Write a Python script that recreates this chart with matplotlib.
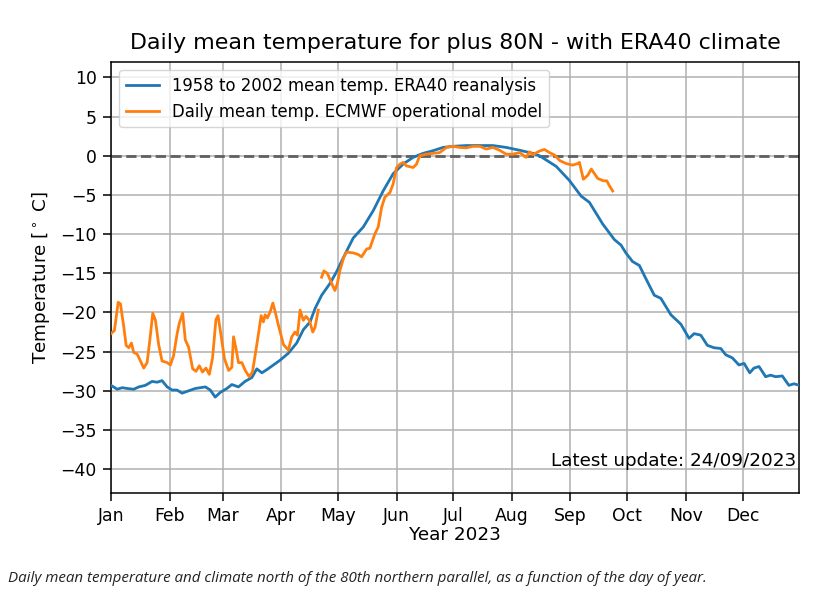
import numpy as np
import matplotlib
matplotlib.use("Agg")
import matplotlib.pyplot as plt

# ---- data (day of year, temperature in deg C) ----
clim_day = [1, 4.3, 6.9, 9.5, 13.0, 15.7, 19.2, 22.7, 25.4, 28.0, 30.7, 33.3, 35.9,
            38.6, 42.0, 45.6, 50.9, 53.5, 56.1, 58.8, 62.3, 64.9, 68.4, 71.9, 75.5,
            78.1, 80.8, 83.4, 86.9, 90.4, 94.8, 99.2, 102.7, 106.3, 108.9, 112.4,
            116.8, 120.3, 124.7, 129.1, 134.4, 139.7, 144.9, 150.2, 155.5, 160.8,
            166.0, 171.3, 176.6, 181.9, 188.9, 196.0, 203.0, 210.0, 217.1, 224.1,
            227.6, 236.4, 243.4, 249.6, 254.0, 261.0, 267.2, 270.7, 273.3, 276.8,
            280.4, 283.9, 288.3, 291.8, 297.1, 302.4, 306.7, 309.4, 312.9, 316.4,
            319.9, 323.5, 326.1, 329.6, 333.1, 335.8, 338.8, 341.0, 343.7, 347.2,
            349.8, 352.5, 356.0, 359.5, 362.2, 365]
clim_temp = [-29.3, -29.8, -29.6, -29.7, -29.8, -29.5, -29.3, -28.8, -28.9, -28.7,
             -29.5, -29.9, -29.9, -30.3, -30.0, -29.7, -29.5, -29.9, -30.8, -30.2,
             -29.7, -29.2, -29.5, -28.8, -28.3, -27.2, -27.7, -27.3, -26.7, -26.1,
             -25.2, -23.9, -22.2, -21.2, -19.5, -17.8, -16.3, -14.8, -12.6, -10.5,
             -9.1, -7.0, -4.5, -2.3, -1.06, -0.2, 0.3, 0.64, 1.06, 1.2, 1.3, 1.3,
             1.3, 1.06, 0.7, 0.3, 0.0, -1.35, -3.15, -5.15, -5.95, -8.7, -10.7,
             -11.4, -12.4, -13.5, -14.0, -15.7, -17.8, -18.2, -20.3, -21.5, -23.3,
             -22.7, -22.9, -24.2, -24.5, -24.6, -25.4, -25.8, -26.7, -26.5, -27.7,
             -27.1, -26.9, -28.2, -28.0, -28.2, -28.1, -29.3, -29.1, -29.3]

oper_day = [1, 2.8, 4.8, 6.0, 7.8, 9.0, 10.4, 11.8, 13.0, 14.8, 16.6, 18.3, 20.1,
            21.5, 23.1, 24.5, 26.2, 28.0, 30.7, 32.4, 34.1, 35.9, 37.1, 38.9, 40.3,
            42.0, 44.2, 46.0, 47.7, 49.4, 51.2, 53.0, 54.7, 56.5, 57.6, 59.3, 61.0,
            63.2, 64.9, 65.8, 67.1, 68.4, 70.2, 72.0, 74.1, 75.8, 77.6, 79.0, 80.4,
            81.6, 82.5, 83.7, 85.2, 86.6, 87.8, 89.5, 92.2, 94.8, 96.6, 98.3, 99.6,
            101.0, 102.7, 104.1, 105.9, 107.7, 108.9, 110.6,
            111.5,
            112.4, 113.6, 115.4, 117.7, 119.4, 120.7, 122.1, 124.2, 125.6, 129.1,
            131.7, 133.5, 136.2, 137.9, 140.5, 142.3, 144.1, 145.8, 148.5, 150.2,
            152.0, 153.7, 155.5, 157.3, 160.8, 162.5, 164.3, 167.8, 171.3, 174.8,
            178.4, 181.9, 185.4, 188.9, 192.4, 196.0, 199.5, 203.0, 206.5, 210.0,
            213.5, 217.1, 220.6, 222.3, 224.1, 227.6, 230.2, 232.9, 235.5, 238.2,
            241.7, 245.2, 247.8, 248.7, 250.8, 253.1, 255.0, 258.4, 261.4, 263.2,
            264.5, 266.3]
oper_temp = [-22.7, -22.3, -18.7, -18.9, -21.9, -24.2, -24.5, -23.9, -25.1, -25.3,
             -26.2, -27.1, -26.4, -23.6, -20.1, -21.0, -24.1, -26.2, -26.4, -26.7,
             -25.5, -22.8, -21.4, -20.1, -23.5, -24.4, -27.2, -27.5, -26.8, -27.6,
             -27.1, -27.9, -25.8, -20.9, -20.4, -23.1, -25.9, -27.4, -27.0, -23.1,
             -24.6, -26.4, -26.4, -27.4, -28.2, -27.6, -24.9, -22.7, -20.4, -21.2,
             -20.3, -20.7, -19.9, -18.8, -19.9, -21.6, -24.1, -24.8, -23.1, -22.5,
             -22.9, -19.7, -21.0, -20.5, -21.0, -22.5, -21.9, -19.7,
             np.nan,
             -15.5, -14.7, -15.0, -16.3, -17.2, -16.3, -14.6, -12.9, -12.3, -12.4,
             -12.6, -12.9, -11.9, -11.8, -10.0, -9.1, -6.6, -5.3, -4.7, -3.6,
             -1.5, -1.1, -0.85, -1.3, -1.5, -1.1, 0.0, 0.2, 0.3, 0.4,
             1.06, 1.2, 1.06, 1.0, 1.2, 1.2, 0.85, 1.06, 0.7, 0.2,
             0.2, 0.4, -0.2, 0.5, 0.13, 0.6, 0.8, 0.4, 0.1, -0.6,
             -1.0, -1.2, -1.0, -0.85, -3.0, -2.5, -1.7, -2.9, -3.2, -3.2,
             -3.8, -4.5]

month_start = [1, 32, 60, 91, 121, 152, 182, 213, 244, 274, 305, 335]
month_labels = ['Jan', 'Feb', 'Mar', 'Apr', 'May', 'Jun', 'Jul', 'Aug', 'Sep',
                'Oct', 'Nov', 'Dec']
y_ticks = [-40, -35, -30, -25, -20, -15, -10, -5, 0, 5, 10]

# ---- figure ----
fig = plt.figure(figsize=(8.15, 5.96), dpi=100)
ax = fig.add_axes([111 / 815, 1 - 492.7 / 596, (799.3 - 111) / 815, (492.7 - 61.7) / 596])

ax.plot(clim_day, clim_temp, color='#1f77b4', lw=2.0,
        label='1958 to 2002 mean temp. ERA40 reanalysis', zorder=3)
ax.plot(oper_day, oper_temp, color='#ff7f0e', lw=2.0,
        label='Daily mean temp. ECMWF operational model', zorder=3)
ax.axhline(0, color='#606060', lw=2.0, ls='--', zorder=2)

ax.set_xlim(1, 365)
ax.set_ylim(-43, 12)
ax.set_xticks(month_start)
ax.set_xticklabels(month_labels)
ax.set_yticks(y_ticks)
ax.grid(True, color='#b0b0b0', lw=1.1)
ax.tick_params(labelsize=12.4, length=5.5, width=1.1, pad=4.8)
for s in ax.spines.values():
    s.set_linewidth(1.1)

ax.set_title('Daily mean temperature for plus 80N - with ERA40 climate',
             fontsize=15.9, pad=9)
ax.set_xlabel('Year 2023', fontsize=13.2, labelpad=1)
ax.set_ylabel(r'Temperature [$^\circ$ C]', fontsize=13.2, labelpad=6)

ax.legend(loc='upper left', fontsize=11.9)
ax.text(0.996, 0.062, 'Latest update: 24/09/2023', transform=ax.transAxes,
        ha='right', va='baseline', fontsize=13.2)

fig.text(8 / 815, 1 - 578 / 596,
         'Daily mean temperature and climate north of the 80th northern parallel, '
         'as a function of the day of year.',
         ha='left', va='center', fontsize=10.9, style='italic',
         family=['Open Sans', 'DejaVu Sans'], color='#222222')

fig.savefig('out.png', dpi=100)
